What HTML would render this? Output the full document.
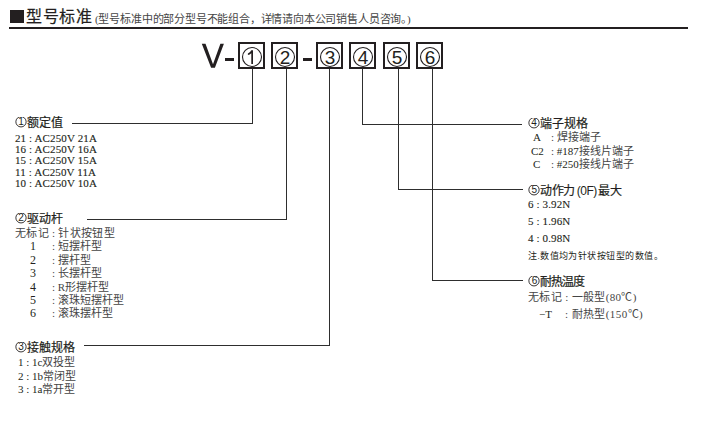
<!DOCTYPE html>
<html lang="zh-CN"><head><meta charset="utf-8">
<style>
html,body{margin:0;padding:0;background:#fff;}
body{width:701px;height:422px;position:relative;overflow:hidden;font-family:"Liberation Serif",serif;color:#231f20;}
.a{position:absolute;white-space:nowrap;}
.ln{position:absolute;background:#2e2e2e;}
.h{font-family:"Liberation Sans",sans-serif;-webkit-text-stroke:0.2px #231f20;font-size:12px;line-height:12px;}
.ci{vertical-align:top;margin-top:0px;}
.b{font-size:11px;line-height:11px;color:#454545;}
.L{color:#231f20;}
.n{font-size:11px;line-height:11px;-webkit-text-stroke:0.12px #231f20;}
.box{position:absolute;top:42px;width:23px;height:23.4px;border:2px solid #231f20;}
.box svg{position:absolute;left:0;top:0;overflow:visible;}
</style></head><body>
<div class="a" style="left:10px;top:10px;width:14px;height:13px;background:#231f20"></div>
<div class="a " style="left:26px;top:8px;font-family:'Liberation Sans',sans-serif;font-size:16px;line-height:18px;letter-spacing:0.6px;-webkit-text-stroke:0.2px #231f20;">型号标准</div>
<div class="a " style="left:95px;top:12.5px;color:#454545;font-size:11px;line-height:12px;letter-spacing:-0.19px;">(型号标准中的部分型号不能组合，详情请向本公司销售人员咨询。)</div>
<div class="a" style="left:9px;top:27px;width:679px;height:2px;background:#231f20"></div>
<svg class="a" style="left:0;top:0" width="240" height="80"><path d="M201.8 43.8H205.5L213 64.3L220.4 43.8H223.9L214.9 67.7H211.1Z" fill="#231f20"/></svg>
<div class="a" style="left:225px;top:58px;width:9px;height:3px;background:#231f20"></div>
<div class="a" style="left:303px;top:58px;width:9px;height:3px;background:#231f20"></div>
<div class="box" style="left:238px"><svg width="23" height="23"><circle cx="12" cy="13" r="9.5" fill="none" stroke="#231f20" stroke-width="1.1"/><path d="M11.3 6.2H13V19.9H11.3V9.2Q9.9 10.6 7.9 11.1V9.5Q10.2 8.6 11.3 6.2Z" fill="#231f20"/></svg></div>
<div class="box" style="left:271px"><svg width="23" height="23"><circle cx="12" cy="13" r="9.5" fill="none" stroke="#231f20" stroke-width="1.1"/><text x="12" y="19.8" text-anchor="middle" font-family="Liberation Sans" font-size="19" fill="#231f20">2</text></svg></div>
<div class="box" style="left:316px"><svg width="23" height="23"><circle cx="12" cy="13" r="9.5" fill="none" stroke="#231f20" stroke-width="1.1"/><text x="12" y="19.8" text-anchor="middle" font-family="Liberation Sans" font-size="19" fill="#231f20">3</text></svg></div>
<div class="box" style="left:349px"><svg width="23" height="23"><circle cx="12" cy="13" r="9.5" fill="none" stroke="#231f20" stroke-width="1.1"/><text x="12" y="19.8" text-anchor="middle" font-family="Liberation Sans" font-size="19" fill="#231f20">4</text></svg></div>
<div class="box" style="left:383px"><svg width="23" height="23"><circle cx="12" cy="13" r="9.5" fill="none" stroke="#231f20" stroke-width="1.1"/><text x="12" y="19.8" text-anchor="middle" font-family="Liberation Sans" font-size="19" fill="#231f20">5</text></svg></div>
<div class="box" style="left:416px"><svg width="23" height="23"><circle cx="12" cy="13" r="9.5" fill="none" stroke="#231f20" stroke-width="1.1"/><text x="12" y="19.8" text-anchor="middle" font-family="Liberation Sans" font-size="19" fill="#231f20">6</text></svg></div>
<div class="ln" style="left:252px;top:69px;width:1px;height:55px"></div>
<div class="ln" style="left:72px;top:123px;width:181px;height:1px"></div>
<div class="ln" style="left:286px;top:69px;width:1px;height:151px"></div>
<div class="ln" style="left:87px;top:219px;width:200px;height:1px"></div>
<div class="ln" style="left:329px;top:69px;width:1px;height:277px"></div>
<div class="ln" style="left:84px;top:345px;width:246px;height:1px"></div>
<div class="ln" style="left:362px;top:69px;width:1px;height:56px"></div>
<div class="ln" style="left:362px;top:124px;width:160px;height:1px"></div>
<div class="ln" style="left:398px;top:69px;width:1px;height:121px"></div>
<div class="ln" style="left:398px;top:189px;width:125px;height:1px"></div>
<div class="ln" style="left:432px;top:69px;width:1px;height:212px"></div>
<div class="ln" style="left:432px;top:280px;width:91px;height:1px"></div>
<div class="a h" style="left:15px;top:117px;letter-spacing:0px"><svg class="ci" width="12" height="12" viewBox="0 0 12 12"><circle cx="6" cy="4.8" r="5.15" fill="none" stroke="#231f20" stroke-width="0.9"/><text x="6" y="8.4" text-anchor="middle" font-family="Liberation Sans" font-weight="normal" stroke="none" font-size="10" fill="#231f20">1</text></svg>额定值</div>
<div class="a n" style="left:15px;top:133px;letter-spacing:0.12px">21 : AC250V 21A</div>
<div class="a n" style="left:15px;top:144px;letter-spacing:0.12px">16 : AC250V 16A</div>
<div class="a n" style="left:15px;top:155px;letter-spacing:0.12px">15 : AC250V 15A</div>
<div class="a n" style="left:15px;top:167px;letter-spacing:0.12px">11 : AC250V 11A</div>
<div class="a n" style="left:15px;top:178px;letter-spacing:0.12px">10 : AC250V 10A</div>
<div class="a h" style="left:15px;top:213px;letter-spacing:0px"><svg class="ci" width="12" height="12" viewBox="0 0 12 12"><circle cx="6" cy="4.8" r="5.15" fill="none" stroke="#231f20" stroke-width="0.9"/><text x="6" y="8.4" text-anchor="middle" font-family="Liberation Sans" font-weight="normal" stroke="none" font-size="10" fill="#231f20">2</text></svg>驱动杆</div>
<div class="a b" style="left:15px;top:228px;letter-spacing:0.3px">无标记 : 针状按钮型</div>
<div class="a b L" style="left:30px;top:239.5px;font-size:12px;line-height:12px;">1</div>
<div class="a b" style="left:52px;top:241px;">: 短摆杆型</div>
<div class="a b L" style="left:30px;top:253.5px;font-size:12px;line-height:12px;">2</div>
<div class="a b" style="left:52px;top:255px;">: 摆杆型</div>
<div class="a b L" style="left:30px;top:266.5px;font-size:12px;line-height:12px;">3</div>
<div class="a b" style="left:52px;top:268px;">: 长摆杆型</div>
<div class="a b L" style="left:30px;top:280.5px;font-size:12px;line-height:12px;">4</div>
<div class="a b" style="left:52px;top:282px;">: R形摆杆型</div>
<div class="a b L" style="left:30px;top:293.5px;font-size:12px;line-height:12px;">5</div>
<div class="a b" style="left:52px;top:295px;">: 滚珠短摆杆型</div>
<div class="a b L" style="left:30px;top:306.5px;font-size:12px;line-height:12px;">6</div>
<div class="a b" style="left:52px;top:308px;">: 滚珠摆杆型</div>
<div class="a h" style="left:15px;top:342px;letter-spacing:0px"><svg class="ci" width="12" height="12" viewBox="0 0 12 12"><circle cx="6" cy="4.8" r="5.15" fill="none" stroke="#231f20" stroke-width="0.9"/><text x="6" y="8.4" text-anchor="middle" font-family="Liberation Sans" font-weight="normal" stroke="none" font-size="10" fill="#231f20">3</text></svg>接触规格</div>
<div class="a b" style="left:18px;top:357px;"><span class=L>1 : 1c</span>双投型</div>
<div class="a b" style="left:18px;top:371px;"><span class=L>2 : 1b</span>常闭型</div>
<div class="a b" style="left:18px;top:384px;"><span class=L>3 : 1a</span>常开型</div>
<div class="a h" style="left:528px;top:118px;letter-spacing:0px"><svg class="ci" width="12" height="12" viewBox="0 0 12 12"><circle cx="6" cy="4.8" r="5.15" fill="none" stroke="#231f20" stroke-width="0.9"/><text x="6" y="8.4" text-anchor="middle" font-family="Liberation Sans" font-weight="normal" stroke="none" font-size="10" fill="#231f20">4</text></svg>端子规格</div>
<div class="a b L" style="left:533px;top:132.3px;">A</div>
<div class="a b" style="left:551px;top:132.3px;">: 焊接端子</div>
<div class="a b L" style="left:531px;top:146px;">C2</div>
<div class="a b" style="left:551px;top:146px;">: <span class=L>#187</span>接线片端子</div>
<div class="a b L" style="left:533px;top:159px;">C</div>
<div class="a b" style="left:551px;top:159px;">: <span class=L>#250</span>接线片端子</div>
<div class="a h" style="left:528px;top:185px;letter-spacing:-0.45px"><svg class="ci" width="12" height="12" viewBox="0 0 12 12"><circle cx="6" cy="4.8" r="5.15" fill="none" stroke="#231f20" stroke-width="0.9"/><text x="6" y="8.4" text-anchor="middle" font-family="Liberation Sans" font-weight="normal" stroke="none" font-size="10" fill="#231f20">5</text></svg>动作力<span style="font-weight:normal;-webkit-text-stroke:0;margin:0 1.5px 0 2px">(0F)</span>最大</div>
<div class="a n" style="left:528px;top:199px;letter-spacing:0.12px">6 : 3.92N</div>
<div class="a n" style="left:528px;top:216px;letter-spacing:0.12px">5 : 1.96N</div>
<div class="a n" style="left:528px;top:233px;letter-spacing:0.12px">4 : 0.98N</div>
<div class="a " style="left:528px;top:250.5px;font-size:9px;line-height:11px;letter-spacing:0.45px;">注.数值均为针状按钮型的数值。</div>
<div class="a h" style="left:528px;top:276px;letter-spacing:-1px"><svg class="ci" width="12" height="12" viewBox="0 0 12 12"><circle cx="6" cy="4.8" r="5.15" fill="none" stroke="#231f20" stroke-width="0.9"/><text x="6" y="8.4" text-anchor="middle" font-family="Liberation Sans" font-weight="normal" stroke="none" font-size="10" fill="#231f20">6</text></svg>耐热温度</div>
<div class="a b" style="left:528px;top:292px;letter-spacing:0.35px">无标记 : 一般型(80℃)</div>
<div class="a b L" style="left:539px;top:308.5px;">−T</div>
<div class="a b" style="left:565px;top:308.5px;letter-spacing:0.4px">: 耐热型(150℃)</div>
</body></html>
